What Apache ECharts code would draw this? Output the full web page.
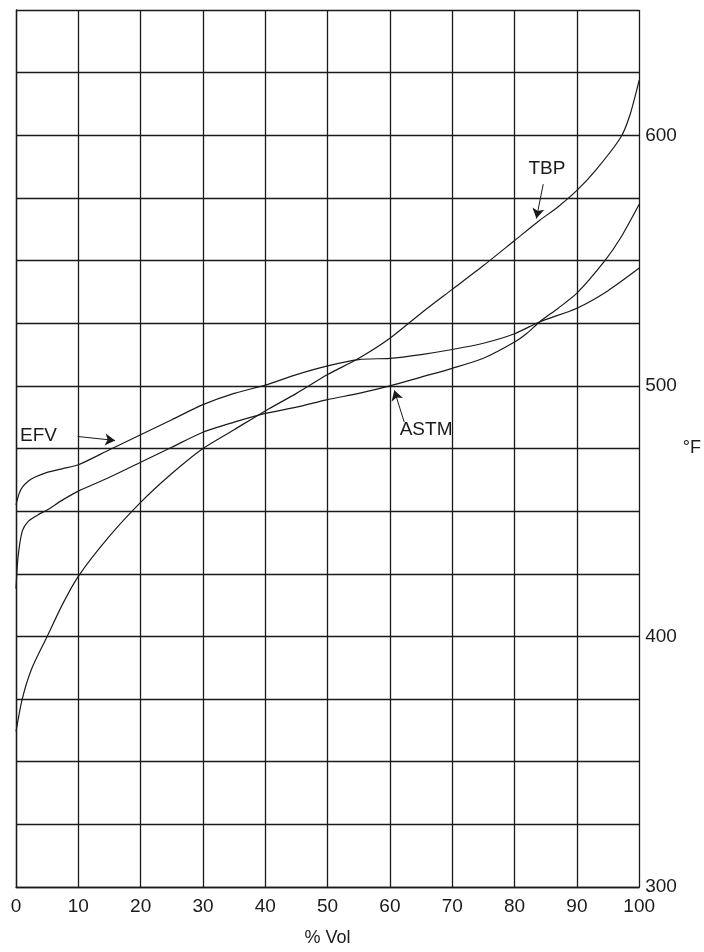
<!DOCTYPE html>
<html>
<head>
<meta charset="utf-8">
<script src="https://cdn.jsdelivr.net/npm/echarts@6/dist/echarts.min.js"></script>
<style>html,body{margin:0;padding:0;background:#fff}#c{width:704px;height:952px}</style>
</head>
<body>
<div id="c"></div>
<script>
// ---- data ----
const xTicks = [0,10,20,30,40,50,60,70,80,90,100];
const yTickLabels = [300,400,500,600];

const volTBP = [0,1,2.5,5,7.5,10,15,20,25,30,35,40,45,50,55,60,65,70,75,80,84,87,90,93,97,98.5,100];
const tempTBP = [362,375,387,400,413,424,440,453.5,465,475,482.5,490,497,504.5,511,519,529,538.5,548,558,566,571.5,578,586,599,608,622];

const volASTM = [0,0.3,1,2,3.5,5,7.5,10,15,20,25,30,35,40,45,50,55,60,65,70,75,80,82,84,87,90,94.5,97,100];
const tempASTM = [419,431,442,446,448.5,450.5,454.5,458,463.5,469.5,475.5,481.5,485.5,489,491.5,494.5,497,500,503.5,507,511,517.5,521,525.5,531,537,550,559,572.5];

const volEFV = [0,0.5,1,2,3,5,7.5,10,15,20,25,30,35,40,45,50,55,60,65,70,75,80,84,90,95,100];
const tempEFV = [452.5,457,459.5,462,463.5,465.5,467,468.5,474.5,480.5,486.5,492.5,497,500.3,504.5,508,510.5,511,512.5,514.5,517,520.8,525.5,531,538,547];

const seriesNames = ['TBP','ASTM','EFV'];

// annotation anchors (data coordinates)
const labelAt = { TBP:[85.2,586.5], ASTM:[65.8,482.5], EFV:[3.6,480.2] };
const arrowFrom = { TBP:[84.6,580.5], ASTM:[62.3,485.5], EFV:[9.9,479.8] };
const arrowTo = { TBP:[83.5,566.8], ASTM:[60.7,498.2], EFV:[15.9,478.2] };

function pairs(xs, ys){ return xs.map((x,i)=>[x, ys[i]]); }

const font = 'Liberation Sans, Arial, Helvetica, sans-serif';
const ink = '#1a1a1a';

function mkSeries(name, xs, ys){
  return {
    name, type:'line', data: pairs(xs, ys), showSymbol:false, smooth:0.25,
    lineStyle:{color:ink, width:1.2}, silent:true, z:3,
    markLine:{
      silent:true, symbol:['none','arrow'], symbolSize:[9,10],
      lineStyle:{color:ink, width:1, type:'solid'}, label:{show:false},
      data:[[{coord:arrowFrom[name]},{coord:arrowTo[name]}]]
    },
    markPoint:{
      silent:true, symbol:'circle', symbolSize:0,
      label:{show:true, formatter:name, color:ink, fontFamily:font, fontSize:19, position:'inside'},
      data:[{coord:labelAt[name]}]
    }
  };
}

const chart = echarts.init(document.getElementById('c'), null, {renderer:'canvas'});
chart.setOption({
  animation:false,
  backgroundColor:'#fff',
  grid:{left:16, right:58, top:10, bottom:62, containLabel:false},
  xAxis:{
    type:'value', min:0, max:100, interval:10,
    name:'% Vol', nameLocation:'middle', nameGap:42,
    nameTextStyle:{color:ink, fontFamily:font, fontSize:18},
    axisLine:{show:true, lineStyle:{color:ink, width:1.3}},
    axisTick:{show:false},
    axisLabel:{color:ink, fontFamily:font, fontSize:19, margin:10,
      formatter:v=> xTicks.includes(v) ? String(v) : ''},
    splitLine:{show:true, lineStyle:{color:ink, width:1.3}}
  },
  yAxis:{
    type:'value', position:'right', min:300, max:650, interval:25,
    name:'°F', nameLocation:'middle', nameGap:38, nameRotate:0,
    nameTextStyle:{color:ink, fontFamily:font, fontSize:18, align:'left'},
    axisLine:{show:true, lineStyle:{color:ink, width:1.3}},
    axisTick:{show:false},
    axisLabel:{color:ink, fontFamily:font, fontSize:19, margin:6,
      formatter:v=> yTickLabels.includes(v) ? String(v) : ''},
    splitLine:{show:true, lineStyle:{color:ink, width:1.3}}
  },
  series:[
    mkSeries(seriesNames[0], volTBP, tempTBP),
    mkSeries(seriesNames[1], volASTM, tempASTM),
    mkSeries(seriesNames[2], volEFV, tempEFV)
  ]
});
</script>
</body>
</html>
